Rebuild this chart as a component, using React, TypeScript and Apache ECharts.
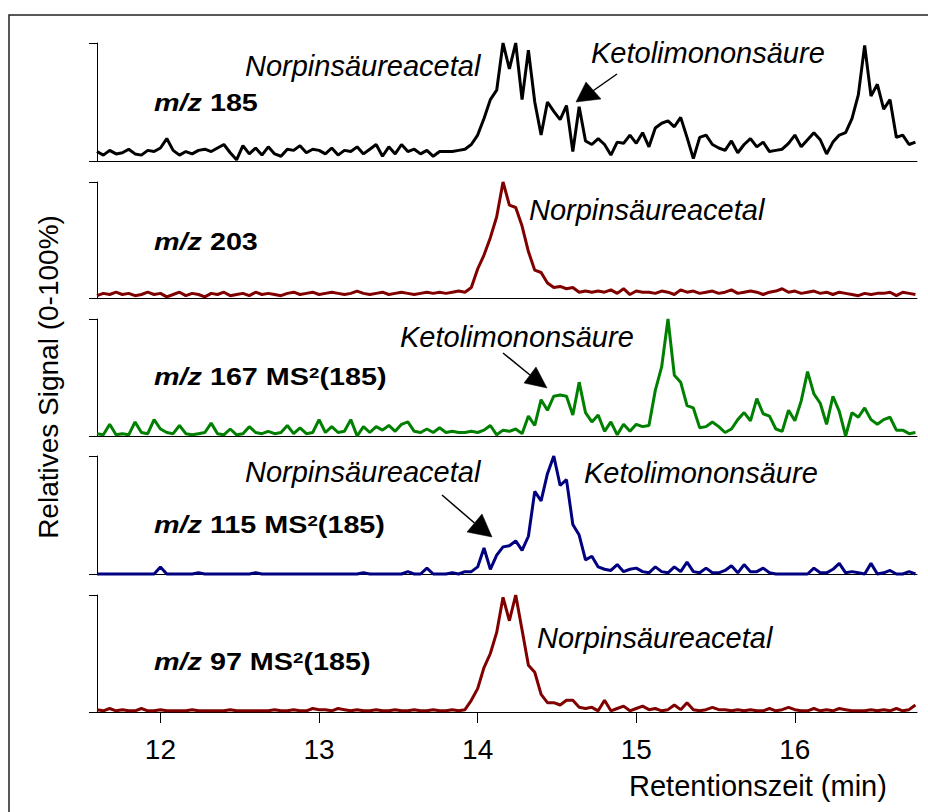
import React, { useEffect, useRef } from "react";
import * as echarts from "echarts";

// Retention-time sampling grid (min) and visible range
const T_START = 11.6;
const T_STEP = 0.04;
const T_MIN = 11.6;
const T_MAX = 16.77;
const X_TICKS = [12, 13, 14, 15, 16];

// Relative signal (0-100 %) per trace, one value per sample
const mz185 = [
  8, 5, 9, 6, 7, 10, 6, 5, 9, 8,
  11, 19, 9, 5, 8, 6, 9, 10, 8, 11,
  14, 7, 1, 13, 6, 11, 5, 12, 6, 4,
  10, 9, 13, 7, 10, 9, 6, 11, 5, 9,
  8, 12, 6, 10, 14, 4, 12, 6, 14, 8,
  10, 6, 9, 4, 8, 8, 8, 9, 10, 14,
  22, 36, 52, 60, 100, 78, 100, 52, 94, 50,
  22, 50, 42, 35, 47, 8, 46, 17, 14, 19,
  14, 5, 16, 15, 22, 15, 24, 12, 28, 32,
  34, 29, 37, 20, 2, 20, 22, 14, 11, 9,
  17, 7, 14, 19, 12, 16, 8, 9, 10, 15,
  22, 12, 18, 24, 18, 6, 16, 22, 24, 36,
  56, 98, 55, 65, 44, 52, 20, 22, 14, 16,
];

const mz203 = [
  2, 4, 3, 5, 3, 4, 2, 3, 5, 3,
  4, 1, 3, 5, 2, 4, 3, 1, 4, 3,
  5, 2, 3, 4, 2, 5, 3, 4, 3, 2,
  4, 5, 3, 4, 5, 3, 4, 5, 4, 3,
  4, 6, 4, 3, 4, 5, 3, 4, 5, 4,
  3, 4, 5, 4, 5, 4, 5, 6, 5, 9,
  25, 37, 52, 70, 100, 80, 78, 62, 40, 24,
  22, 13, 9, 10, 8, 9, 5, 6, 5, 6,
  5, 7, 4, 8, 3, 6, 5, 5, 4, 6,
  5, 3, 7, 5, 6, 4, 5, 6, 4, 5,
  7, 4, 5, 6, 5, 3, 5, 6, 8, 5,
  6, 4, 5, 6, 4, 5, 3, 5, 4, 3,
  2, 4, 3, 4, 4, 5, 2, 5, 4, 3,
];

const mz167 = [
  2, 1, 10, 1, 2, 1, 12, 3, 2, 14,
  6, 3, 2, 9, 2, 1, 2, 3, 11, 2,
  1, 6, 1, 2, 8, 3, 2, 4, 2, 3,
  9, 2, 7, 2, 3, 14, 3, 8, 3, 4,
  14, 0, 8, 3, 8, 5, 9, 4, 10, 12,
  4, 3, 6, 3, 7, 3, 4, 3, 3, 4,
  3, 5, 9, 1, 5, 4, 6, 2, 17, 9,
  31, 22, 34, 35, 34, 18, 46, 20, 12, 18,
  4, 12, 1, 10, 4, 10, 8, 9, 39, 59,
  100, 52, 46, 26, 24, 7, 8, 12, 8, 3,
  6, 14, 20, 13, 32, 19, 17, 6, 4, 22,
  13, 30, 55, 36, 28, 10, 34, 21, 0, 20,
  16, 24, 14, 10, 14, 16, 5, 5, 2, 3,
];

const mz115 = [
  0, 0, 0, 0, 0, 0, 0, 0, 0, 0,
  6, 0, 0, 0, 0, 0, 1, 0, 0, 0,
  0, 0, 0, 0, 0, 1, 0, 0, 0, 0,
  0, 0, 0, 0, 0, 0, 0, 0, 0, 0,
  0, 0, 1, 0, 0, 0, 0, 0, 0, 2,
  0, 0, 5, 0, 0, 0, 1, 0, 2, 2,
  6, 22, 4, 16, 23, 24, 28, 20, 32, 70,
  62, 85, 100, 75, 80, 42, 33, 12, 15, 6,
  4, 3, 8, 2, 4, 5, 2, 1, 6, 2,
  1, 6, 2, 10, 2, 1, 5, 1, 1, 3,
  7, 1, 8, 2, 2, 5, 1, 0, 0, 0,
  0, 0, 0, 5, 1, 1, 4, 9, 1, 2,
  1, 0, 9, 0, 1, 3, 0, 0, 2, 0,
];

const mz97 = [
  2, 1, 3, 1, 2, 1, 1, 3, 1, 1,
  2, 1, 1, 1, 1, 2, 1, 1, 1, 1,
  1, 2, 1, 1, 1, 1, 1, 1, 2, 1,
  1, 2, 1, 1, 3, 2, 2, 1, 3, 2,
  1, 2, 1, 1, 2, 1, 1, 2, 1, 1,
  2, 1, 1, 2, 1, 1, 2, 1, 2, 10,
  20, 38, 50, 68, 98, 78, 100, 70, 40, 34,
  15, 8, 8, 6, 10, 10, 4, 3, 4, 1,
  10, 1, 3, 5, 1, 3, 5, 2, 3, 1,
  2, 6, 2, 8, 2, 1, 2, 4, 2, 2,
  1, 2, 1, 2, 1, 1, 3, 1, 2, 4,
  2, 1, 1, 3, 1, 2, 1, 3, 2, 1,
  1, 1, 2, 1, 2, 1, 3, 1, 2, 6,
];

const traceValues = [mz185, mz203, mz167, mz115, mz97];
const traceMz = ["185", "203", "167", "115", "97"];
const traceIsMs2 = [false, false, true, true, true];
const traceColors = ["#000000", "#800000", "#008000", "#000080", "#800000"];

const NORP = "Norpinsäureacetal";
const KETO = "Ketolimononsäure";

const FONT = '"Liberation Sans", Arial, Helvetica, sans-serif';

// Panel geometry (px)
const PANEL_LEFT = 97;
const PANEL_RIGHT = 917;
const PANEL_TOPS = [43, 182, 319, 456, 595];
const PANEL_HEIGHTS = [118, 116, 117, 118, 117];
const LABEL_Y = [103, 242, 377, 525, 662];

function buildOption(): echarts.EChartsOption {
  const n = traceValues.length;
  const grid = PANEL_TOPS.map((top, k) => ({
    left: PANEL_LEFT,
    width: PANEL_RIGHT - PANEL_LEFT,
    top,
    height: PANEL_HEIGHTS[k],
    containLabel: false,
  }));

  const xAxis = PANEL_TOPS.map((_, k) => {
    const last = k === n - 1;
    return {
      type: "value" as const,
      gridIndex: k,
      min: T_MIN,
      max: T_MAX,
      axisLine: { show: true, onZero: false, lineStyle: { color: "#000", width: 1 } },
      axisTick: last
        ? { show: true, length: 11, customValues: X_TICKS, lineStyle: { color: "#000", width: 1 } }
        : { show: false },
      axisLabel: last
        ? {
            show: true,
            customValues: X_TICKS,
            margin: 23,
            color: "#000",
            fontSize: 28,
            fontFamily: FONT,
            formatter: (v: number) => String(Math.round(v)),
          }
        : { show: false },
      splitLine: { show: false },
    };
  });

  const yAxis = PANEL_TOPS.map((_, k) => ({
    type: "value" as const,
    gridIndex: k,
    min: 0,
    max: 100,
    interval: 100,
    axisLine: { show: true, lineStyle: { color: "#000", width: 1 } },
    axisTick: { show: true, length: 8, lineStyle: { color: "#000", width: 1 } },
    axisLabel: { show: false },
    splitLine: { show: false },
  }));

  const series = traceValues.map((vals, k) => ({
    type: "line" as const,
    name: "m/z " + traceMz[k] + (traceIsMs2[k] ? " MS2(185)" : ""),
    xAxisIndex: k,
    yAxisIndex: k,
    showSymbol: false,
    clip: false,
    silent: true,
    lineStyle: { color: traceColors[k], width: 3 },
    itemStyle: { color: traceColors[k] },
    data: vals.map((v, i) => [Number((T_START + i * T_STEP).toFixed(2)), v]),
  }));

  const labelRich = {
    i: { fontStyle: "italic", fontWeight: "bold", fontSize: 23, fontFamily: FONT, fill: "#000" },
    b: { fontWeight: "bold", fontSize: 23, fontFamily: FONT, fill: "#000" },
    sup: { fontWeight: "bold", fontSize: 15, fontFamily: FONT, fill: "#000", verticalAlign: "top" },
  };

  const panelLabels = traceMz.map((mz, k) => ({
    type: "text" as const,
    x: 154,
    y: LABEL_Y[k],
    scaleX: 1.25,
    silent: true,
    style: {
      text: traceIsMs2[k]
        ? "{i|m/z} {b|" + mz + " MS}{sup|2}{b|(185)}"
        : "{i|m/z} {b|" + mz + "}",
      verticalAlign: "middle" as const,
      fill: "#000",
      rich: labelRich,
      fontSize: 23,
      fontWeight: "bold",
      fontFamily: FONT,
    },
  }));

  const notes: [string, number, number][] = [
    [NORP, 245, 66],
    [KETO, 591, 53],
    [NORP, 529, 210],
    [KETO, 400, 337],
    [NORP, 245, 472],
    [KETO, 584, 473],
    [NORP, 537, 638],
  ];
  const noteTexts = notes.map(([text, x, y]) => ({
    type: "text" as const,
    x,
    y,
    silent: true,
    style: {
      text,
      fill: "#000",
      fontSize: 29,
      fontStyle: "italic",
      fontFamily: FONT,
      verticalAlign: "middle" as const,
    },
  }));

  // Arrows: tail point, then arrowhead (two base corners + tip)
  const arrows: number[][] = [
    [617, 74, 586, 82, 601, 99, 576, 102],
    [503, 353, 524, 383, 536, 367, 547, 388],
    [442, 495, 467, 532, 482, 514, 492, 537],
  ];
  const arrowEls: any[] = [];
  arrows.forEach(([tx, ty, ax, ay, bx, by, px, py]) => {
    arrowEls.push({
      type: "line",
      silent: true,
      shape: { x1: tx, y1: ty, x2: (ax + bx) / 2, y2: (ay + by) / 2 },
      style: { stroke: "#000", lineWidth: 1.5 },
    });
    arrowEls.push({
      type: "polygon",
      silent: true,
      shape: { points: [[ax, ay], [bx, by], [px, py]] },
      style: { fill: "#000", stroke: "#000", lineWidth: 0.5 },
    });
  });

  return {
    animation: false,
    backgroundColor: "#ffffff",
    grid,
    xAxis,
    yAxis,
    series,
    graphic: [
      {
        type: "rect",
        silent: true,
        shape: { x: 9, y: 15, width: 940, height: 820 },
        style: { fill: "none", stroke: "#222", lineWidth: 1.5 },
      },
      {
        type: "text",
        x: 48,
        y: 377,
        rotation: Math.PI / 2,
        silent: true,
        style: {
          text: "Relatives Signal (0-100%)",
          fill: "#000",
          fontSize: 28,
          fontFamily: FONT,
          align: "center",
          verticalAlign: "middle",
        },
      },
      {
        type: "text",
        x: 629,
        y: 786,
        silent: true,
        style: {
          text: "Retentionszeit (min)",
          fill: "#000",
          fontSize: 29,
          fontFamily: FONT,
          verticalAlign: "middle",
        },
      },
      ...panelLabels,
      ...noteTexts,
      ...arrowEls,
    ],
  } as echarts.EChartsOption;
}

export default function App() {
  const ref = useRef<HTMLDivElement>(null);

  useEffect(() => {
    if (!ref.current) return;
    const chart = echarts.init(ref.current, undefined, { renderer: "svg" });
    chart.setOption(buildOption());
    return () => chart.dispose();
  }, []);

  return (
    <div
      ref={ref}
      style={{ position: "absolute", left: 0, top: 0, width: 928, height: 812, background: "#fff" }}
    />
  );
}
